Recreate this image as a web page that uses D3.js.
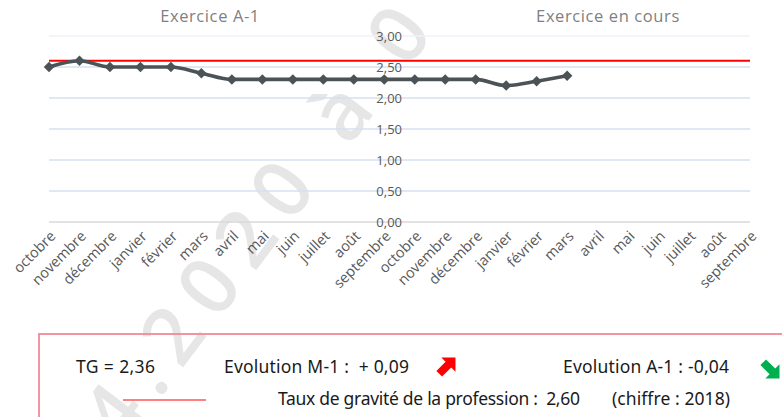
<!DOCTYPE html>
<html><head><meta charset="utf-8">
<script src="https://cdn.jsdelivr.net/npm/d3@7"></script>
<style>
html,body{margin:0;padding:0;background:#fff;overflow:hidden;}
svg{display:block;}
</style></head>
<body>
<script>
const categories = ["octobre","novembre","décembre","janvier","février","mars","avril","mai","juin","juillet","août","septembre",
                    "octobre","novembre","décembre","janvier","février","mars","avril","mai","juin","juillet","août","septembre"];
const tgValues = [2.50,2.60,2.50,2.50,2.50,2.40,2.30,2.30,2.30,2.30,2.30,2.30,
                  2.30,2.30,2.30,2.20,2.27,2.36];
const professionRate = 2.60;
const yTicks = [0,0.5,1,1.5,2,2.5,3];
const periodTitles = ["Exercice A-1","Exercice en cours"];
const legendRow1 = ["TG = 2,36","Evolution M-1 :  + 0,09","Evolution A-1 : -0,04"];
const legendRow2 = ["Taux de gravité de la profession :  2,60","(chiffre : 2018)"];
const watermarkText = "4.2020 à 0";

const W = 782, H = 417;
const svg = d3.select("body").append("svg").attr("width",W).attr("height",H);

// watermark
svg.append("text")
  .attr("transform","translate(97,429) rotate(-53)")
  .attr("text-anchor","start").attr("dominant-baseline","central")
  .attr("font-family","Open Sans").attr("font-weight",600).attr("font-size",80)
  .attr("letter-spacing",15)
  .attr("fill","#e6e6e6")
  .style("white-space","pre")
  .text(watermarkText);

const x = d3.scalePoint().domain(d3.range(categories.length)).range([49,750]);
const y = d3.scaleLinear().domain([0,3]).range([222,36]);

// gridlines
svg.append("g").selectAll("line").data(yTicks).join("line")
  .attr("x1",49).attr("x2",750)
  .attr("y1",d=>y(d)).attr("y2",d=>y(d))
  .attr("stroke",d=>d===0?"#d9d9d9":(d===3?"#eef2f9":"#d6e1f2")).attr("stroke-width",1.6);

// y axis labels
const yAxis = d3.axisLeft(y).tickValues(yTicks).tickSize(0).tickPadding(0)
  .tickFormat(d=>d3.format(".2f")(d).replace(".",","));
const gy = svg.append("g").attr("transform","translate(402,0)").call(yAxis);
gy.select(".domain").remove();
gy.selectAll("text").attr("font-family","Open Sans").attr("font-size",13).attr("fill","#595959");

// x axis labels
const xAxis = d3.axisBottom(x).tickSize(0).tickFormat(i=>categories[i]);
const gx = svg.append("g").attr("transform","translate(0,222)").call(xAxis);
gx.select(".domain").remove();
gx.selectAll("text")
  .attr("font-family","Open Sans").attr("font-size",14.5).attr("fill","#595959")
  .attr("text-anchor","end").attr("dy",0).attr("y",0)
  .attr("transform","translate(7,15) rotate(-45)");

// profession line
svg.append("line").attr("x1",49).attr("x2",750)
  .attr("y1",y(professionRate)).attr("y2",y(professionRate))
  .attr("stroke","#ff0000").attr("stroke-width",2);

// data line
const line = d3.line().x((d,i)=>x(i)).y(d=>y(d)).curve(d3.curveMonotoneX);
svg.append("path").datum(tgValues).attr("d",line)
  .attr("fill","none").attr("stroke","#4b5357").attr("stroke-width",3.6).attr("stroke-linejoin","round");
svg.append("g").selectAll("path").data(tgValues).join("path")
  .attr("d",d3.symbol(d3.symbolDiamond2 || d3.symbolDiamond,70)())
  .attr("transform",(d,i)=>`translate(${x(i)},${y(d)})`)
  .attr("fill","#4b5357");

// titles
svg.selectAll(".ptitle").data(periodTitles).join("text")
  .attr("x",(d,i)=>i===0?210:608).attr("y",22)
  .attr("text-anchor","middle").attr("font-family","Open Sans").attr("font-size",16.5)
  .attr("letter-spacing",0.6)
  .attr("fill","#7f7f7f").text(d=>d);

// legend box
svg.append("rect").attr("x",39).attr("y",334).attr("width",800).attr("height",120)
  .attr("fill","none").attr("stroke","#f08a98").attr("stroke-width",1.8);

const lf = "Noto Sans";
const row1X = [76,224,563], row1W = [79,185,166];
const row2X = [278,612], row2W = [302,118];
svg.selectAll(".l1").data(legendRow1).join("text")
  .attr("x",(d,i)=>row1X[i]).attr("y",373)
  .attr("font-family",lf).attr("font-size",17.5).attr("fill","#1a1a1a")
  .attr("textLength",(d,i)=>row1W[i]).attr("lengthAdjust","spacing")
  .style("white-space","pre").text(d=>d);
svg.selectAll(".l2").data(legendRow2).join("text")
  .attr("x",(d,i)=>row2X[i]).attr("y",405)
  .attr("font-family",lf).attr("font-size",17.5).attr("fill","#1a1a1a")
  .attr("textLength",(d,i)=>row2W[i]).attr("lengthAdjust","spacing")
  .style("white-space","pre").text(d=>d);
svg.append("line").attr("x1",123).attr("x2",206).attr("y1",400).attr("y2",400)
  .attr("stroke","#ff8080").attr("stroke-width",2);

// arrows
function arrow(cx,cy,angle,color){
  const p = "M-11,-4 L2,-4 L2,-10 L12,0 L2,10 L2,4 L-11,4 Z";
  svg.append("path").attr("d",p).attr("fill",color)
    .attr("transform",`translate(${cx},${cy}) rotate(${angle})`);
}
arrow(447,366,-45,"#ff0000");
arrow(771,370,45,"#00b050");
</script>
</body></html>
